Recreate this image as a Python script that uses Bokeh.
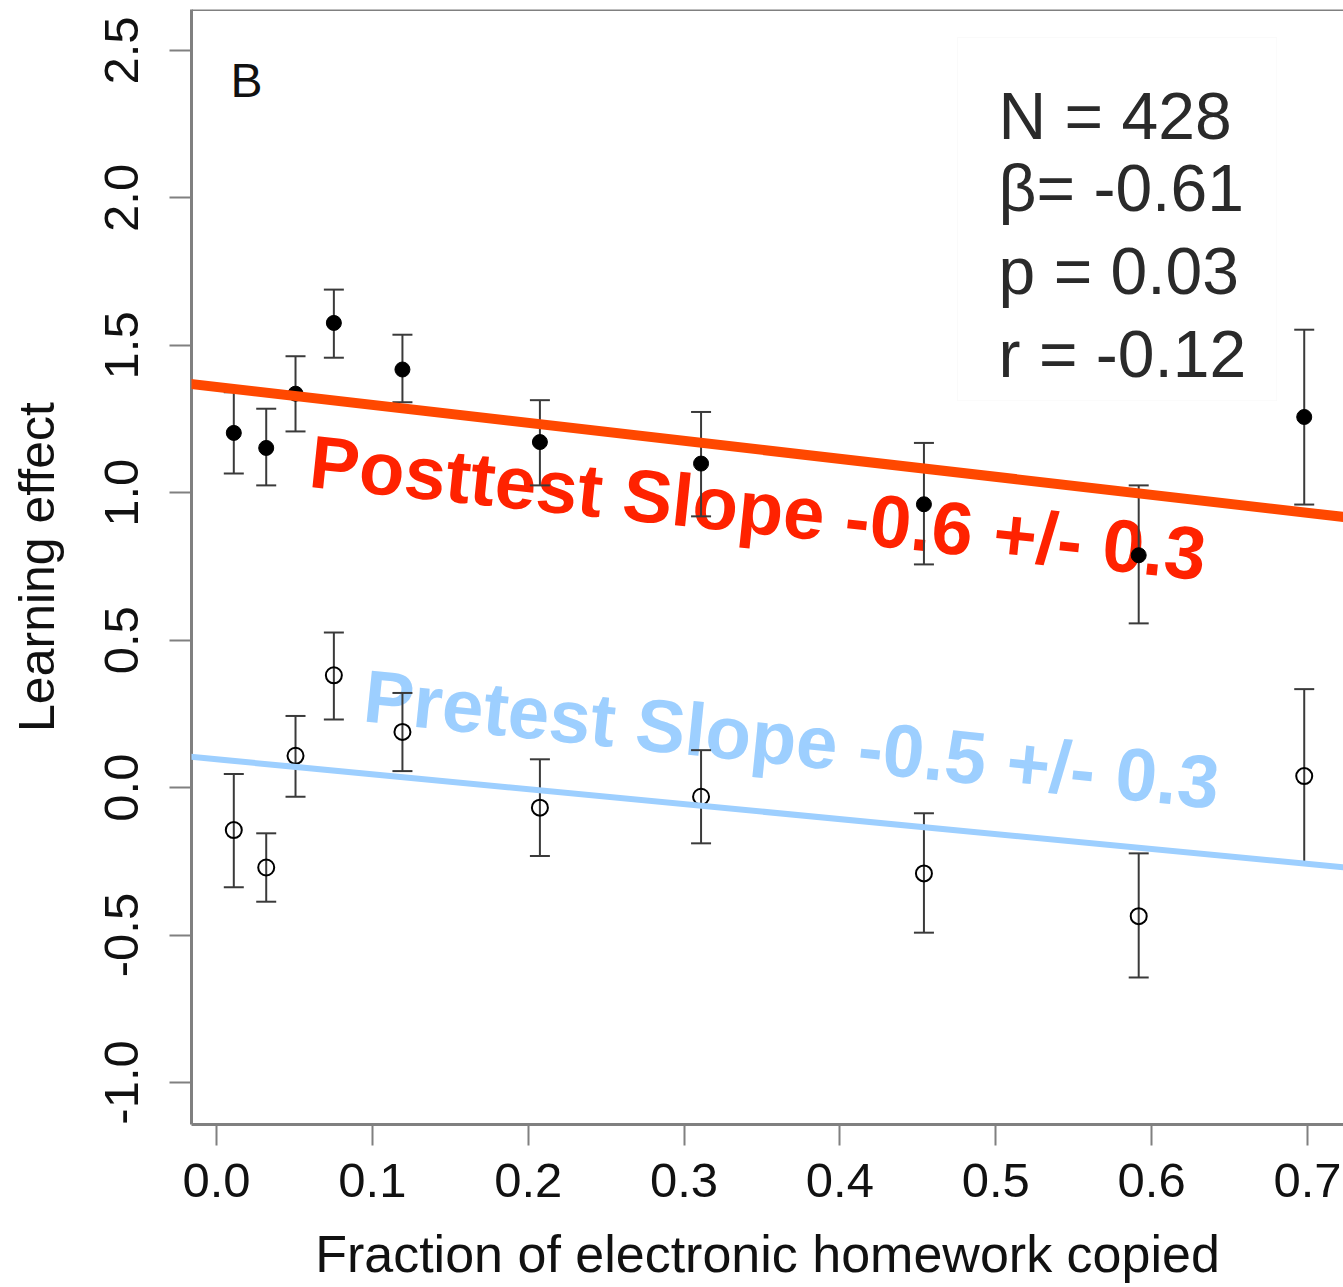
from bokeh.plotting import figure
from bokeh.models import Range1d, FixedTicker, PrintfTickFormatter, Slope, Span, BoxAnnotation, ColumnDataSource
from bokeh.core.properties import value
from bokeh.embed import file_html
from bokeh.resources import INLINE

# ---- data ----
x_copied = [0.0111, 0.0319, 0.0507, 0.0753, 0.1193, 0.2075, 0.3109, 0.4539, 0.5917, 0.6979]
post_mean = [1.203, 1.152, 1.336, 1.576, 1.418, 1.172, 1.099, 0.961, 0.788, 1.257]
post_lo = [1.065, 1.025, 1.208, 1.458, 1.307, 1.025, 0.920, 0.757, 0.557, 0.960]
post_hi = [1.341, 1.285, 1.463, 1.689, 1.536, 1.314, 1.274, 1.169, 1.025, 1.553]
pre_mean = [-0.144, -0.271, 0.108, 0.381, 0.189, -0.068, -0.031, -0.291, -0.436, 0.039]
pre_lo = [-0.338, -0.387, -0.031, 0.231, 0.056, -0.232, -0.189, -0.492, -0.644, -0.256]
pre_hi = [0.046, -0.155, 0.243, 0.526, 0.321, 0.096, 0.127, -0.087, -0.223, 0.334]

post_fit_slope = -0.61
post_fit_intercept = 1.359
pre_fit_slope = -0.507
pre_fit_intercept = 0.096

x_ticks = [0.0, 0.1, 0.2, 0.3, 0.4, 0.5, 0.6, 0.7]
y_ticks = [-1.0, -0.5, 0.0, 0.5, 1.0, 1.5, 2.0, 2.5]

panel_label = "B"
stats_lines = ["N = 428", "\u03b2= -0.61", "p = 0.03", "r = -0.12"]
post_label = "Posttest Slope -0.6 +/- 0.3"
pre_label = "Pretest Slope -0.5 +/- 0.3"
x_title = "Fraction of electronic homework copied"
y_title = "Learning effect"

FONT = "Liberation Sans"
AXIS_GRAY = "#808080"
BAR_COLOR = "#3a3a3a"

p = figure(width=1343, height=1287,
           x_range=Range1d(-0.01604, 0.7231), y_range=Range1d(-1.1426, 2.639),
           output_backend="svg", toolbar_location=None,
           min_border_left=191, min_border_right=0, min_border_top=9, min_border_bottom=163)
p.outline_line_color = None
p.grid.visible = False
p.background_fill_color = "white"
p.border_fill_color = "white"

for ax in (p.xaxis[0], p.yaxis[0]):
    ax.axis_line_color = AXIS_GRAY
    ax.axis_line_width = 3
    ax.major_tick_line_color = AXIS_GRAY
    ax.major_tick_line_width = 2
    ax.major_tick_in = 0
    ax.minor_tick_line_color = None
    ax.major_label_text_font = FONT
    ax.major_label_text_font_size = "49px"
    ax.major_label_text_color = "#111111"
    ax.axis_label_text_font = FONT
    ax.axis_label_text_font_style = "normal"
    ax.axis_label_text_color = "#111111"
    ax.formatter = PrintfTickFormatter(format="%.1f")

p.xaxis.ticker = FixedTicker(ticks=x_ticks)
p.xaxis.major_tick_out = 21
p.xaxis.major_label_standoff = 18
p.xaxis.axis_label = x_title
p.xaxis.axis_label_text_font_size = "52px"
p.xaxis.axis_label_standoff = 25

p.yaxis.ticker = FixedTicker(ticks=y_ticks)
p.yaxis.major_tick_out = 22
p.yaxis.major_label_orientation = "parallel"
p.yaxis.major_label_standoff = 31
p.yaxis.axis_label = y_title
p.yaxis.axis_label_text_font_size = "50px"
p.yaxis.axis_label_standoff = 38

# top frame line
p.add_layout(Span(location=2.639, dimension="width", line_color=AXIS_GRAY, line_width=3))

# faint stats box
p.add_layout(BoxAnnotation(left=0.4754, right=0.6801, top=2.544, bottom=1.313,
                           fill_color=None, line_color="#f0f0f0", line_width=1))

# texts (drawn beneath data marks)
p.text(x=[0.0601], y=[1.106], text=[post_label], text_font=value(FONT), text_font_size="74.5px",
       text_font_style="bold", text_color="#FF2200", angle=-0.104,
       text_align="left", text_baseline="middle")
p.text(x=[0.0948], y=[0.3107], text=[pre_label], text_font=value(FONT), text_font_size="74.5px",
       text_font_style="bold", text_color="#9DCFFF", angle=-0.102,
       text_align="left", text_baseline="middle")
p.text(x=[0.0090], y=[2.397], text=[panel_label], text_font=value(FONT), text_font_size="48px",
       text_color="#111111", text_align="left", text_baseline="middle")
p.text(x=[0.5018] * 4, y=[2.279, 2.033, 1.753, 1.470], text=stats_lines, text_font=value(FONT),
       text_font_size="66px", text_color="#2a2a2a", text_align="left", text_baseline="middle")

src = ColumnDataSource(dict(x=x_copied, pm=post_mean, plo=post_lo, phi=post_hi,
                            qm=pre_mean, qlo=pre_lo, qhi=pre_hi))

# error bars
for lo, hi in (("plo", "phi"), ("qlo", "qhi")):
    p.segment(x0="x", y0=lo, x1="x", y1=hi, source=src, line_color=BAR_COLOR, line_width=2)
    p.scatter(x="x", y=lo, source=src, marker="dash", size=20, line_color=BAR_COLOR, line_width=2)
    p.scatter(x="x", y=hi, source=src, marker="dash", size=20, line_color=BAR_COLOR, line_width=2)

# points
p.scatter(x="x", y="pm", source=src, marker="circle", size=15, fill_color="black", line_color="black")
p.scatter(x="x", y="qm", source=src, marker="circle", size=16, fill_color=None,
          line_color="black", line_width=2)

# regression lines
p.add_layout(Slope(gradient=post_fit_slope, y_intercept=post_fit_intercept,
                   line_color="#FF4800", line_width=10))
p.add_layout(Slope(gradient=pre_fit_slope, y_intercept=pre_fit_intercept,
                   line_color="#9DCFFF", line_width=6))

open("out.html", "w").write(file_html(p, INLINE))
